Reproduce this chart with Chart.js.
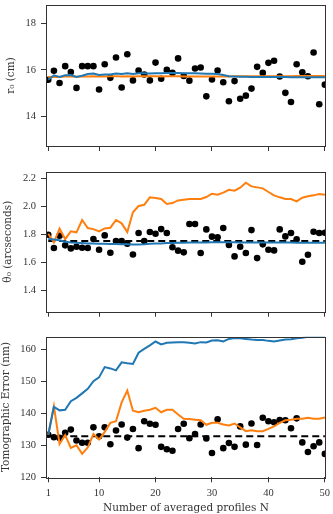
<!DOCTYPE html>
<html><head><meta charset="utf-8">
<script src="https://cdn.jsdelivr.net/npm/chart.js@4"></script>
<style>
html,body{margin:0;padding:0;background:#fff;overflow:hidden;width:333px;height:514px;position:relative;}
canvas{position:absolute;left:0;}
</style></head><body>
<canvas id="c1" width="333" height="160" style="top:0px"></canvas>
<canvas id="c2" width="333" height="160" style="top:160px"></canvas>
<canvas id="c3" width="333" height="200" style="top:320px"></canvas>
<script>
// ---------- data ----------
const profilesN = [1,2,3,4,5,6,7,8,9,10,11,12,13,14,15,16,17,18,19,20,21,22,23,24,25,26,27,28,29,30,31,32,33,34,35,36,37,38,39,40,41,42,43,44,45,46,47,48,49,50];
const xTicks = [1,10,20,30,40,50];

const r0Points = [15.58,15.96,15.44,16.16,15.91,15.23,16.16,16.16,16.16,15.16,16.24,15.66,16.53,15.25,16.67,15.55,15.97,15.80,15.55,16.31,15.62,16.00,15.87,16.49,15.74,15.54,16.06,16.10,14.87,15.59,15.97,15.47,14.66,15.52,14.77,14.90,15.20,16.13,15.87,16.30,16.39,15.72,15.02,14.63,16.24,15.90,15.73,16.74,14.53,15.37];
const r0Blue = [15.58,15.77,15.70,15.77,15.78,15.70,15.75,15.82,15.84,15.78,15.80,15.80,15.84,15.82,15.86,15.82,15.86,15.86,15.85,15.86,15.86,15.87,15.87,15.87,15.86,15.86,15.86,15.85,15.84,15.83,15.82,15.78,15.73,15.72,15.71,15.71,15.70,15.70,15.70,15.70,15.70,15.70,15.70,15.69,15.69,15.69,15.69,15.69,15.68,15.68];
const r0Orange = [15.70,15.71,15.70,15.72,15.72,15.71,15.72,15.72,15.73,15.72,15.72,15.73,15.73,15.72,15.73,15.72,15.73,15.73,15.73,15.73,15.72,15.73,15.73,15.73,15.72,15.72,15.72,15.72,15.72,15.72,15.72,15.72,15.72,15.73,15.73,15.73,15.73,15.73,15.73,15.73,15.73,15.73,15.73,15.73,15.74,15.74,15.74,15.74,15.74,15.74];
const r0Ticks = [14,16,18];

const thetaPoints = [1.80,1.705,1.793,1.724,1.702,1.714,1.707,1.705,1.769,1.693,1.795,1.671,1.755,1.755,1.736,1.659,1.812,1.755,1.819,1.807,1.84,1.812,1.71,1.686,1.674,1.876,1.876,1.669,1.838,1.786,1.781,1.848,1.726,1.645,1.714,1.669,1.833,1.633,1.731,1.693,1.688,1.838,1.788,1.812,1.767,1.607,1.657,1.821,1.812,1.814];
const thetaBlue = [1.77,1.765,1.76,1.75,1.745,1.742,1.74,1.738,1.737,1.736,1.735,1.734,1.733,1.732,1.731,1.73,1.73,1.732,1.735,1.737,1.738,1.74,1.741,1.742,1.743,1.744,1.745,1.745,1.745,1.746,1.746,1.746,1.746,1.746,1.745,1.745,1.745,1.745,1.745,1.745,1.745,1.745,1.745,1.744,1.743,1.742,1.742,1.742,1.742,1.742];
const thetaOrange = [1.807,1.745,1.843,1.769,1.824,1.817,1.905,1.848,1.84,1.824,1.845,1.85,1.905,1.881,1.819,1.96,2.005,2.014,2.067,2.062,2.055,2.019,2.026,2.045,2.05,2.055,2.055,2.055,2.069,2.093,2.086,2.1,2.121,2.114,2.136,2.171,2.145,2.138,2.131,2.105,2.081,2.067,2.055,2.055,2.038,2.064,2.074,2.081,2.09,2.086];
const thetaRef = 1.755;
const thetaTicks = [1.4,1.6,1.8,2.0,2.2];

const tomoPoints = [133.3,132.5,132.3,133.9,134.9,131.5,130.8,130.8,135.6,132.8,135.6,130.3,134.6,136.5,132.4,135.1,129.1,137.5,136.7,136.4,129.5,128.75,128.3,135.1,136.7,132.2,133.5,136.5,132.1,127.6,138.1,129.1,130.7,129.5,135.9,130.2,136.8,130.1,138.6,137.5,137.2,137.9,137.8,135.3,138.4,130.9,127.9,129.7,130.9,127.3];
const tomoBlue = [133.3,142.0,140.9,141.1,143.75,144.8,146.2,147.6,150.0,151.2,154.4,154.0,153.4,155.9,155.6,155.4,158.9,160.1,161.2,162.4,161.5,162.0,162.1,162.2,162.2,162.0,161.8,162.2,162.1,162.7,162.8,162.4,163.2,163.5,163.4,163.2,163.0,162.9,162.9,162.6,162.4,162.7,163.0,163.1,163.4,163.6,163.9,164.0,164.0,164.0];
const tomoOrange = [133.3,142.2,130.4,133.2,129.2,130.0,127.3,129.3,133.5,131.8,134.2,137.0,137.5,143.4,147.1,140.8,140.3,140.8,141.1,141.7,140.3,141.1,141.1,139.6,138.3,138.2,138.0,137.8,136.4,137.0,137.0,136.5,136.2,136.8,135.6,134.4,134.7,134.4,134.4,135.1,135.9,137.0,137.8,138.0,138.3,138.3,138.6,138.3,138.3,138.7];
const tomoRef = 132.8;
const tomoTicks = [120,130,140,150,160];

// ---------- helpers ----------
const BLUE = '#1f77b4', ORANGE = '#ff7f0e', INK = '#333333';
const pts = (ys) => profilesN.map((n, i) => ({x: n, y: ys[i]}));
const flat = (v) => profilesN.map(n => ({x: n, y: v}));

const framePlugin = {
  id: 'frame',
  afterDatasetsDraw(chart) {
    const {ctx, chartArea: a} = chart;
    ctx.save();
    ctx.strokeStyle = INK; ctx.lineWidth = 1;
    ctx.strokeRect(Math.round(a.left) + 0.5, Math.round(a.top) + 0.5, Math.round(a.right - a.left) - 1, Math.round(a.bottom - a.top));
    ctx.restore();
  }
};

function lineDs(data, color, order, dash) {
  return {data, showLine: true, borderColor: color, backgroundColor: color, borderWidth: 2,
    pointRadius: 0, pointHoverRadius: 0, tension: 0, order, clip: 0, borderDash: dash || []};
}
function dotDs(data) {
  return {data, showLine: false, pointRadius: 3.3, pointBackgroundColor: '#000', pointBorderWidth: 0,
    backgroundColor: '#000', borderColor: '#000', order: 10, clip: 0};
}

function panel(id, o) {
  const tickFont = {family: 'Liberation Serif', size: 10.5};
  const titleFont = {family: 'DejaVu Serif', size: 10.5};
  new Chart(document.getElementById(id), {
    type: 'scatter',
    data: {datasets: o.datasets},
    options: {
      responsive: false, animation: false, events: [],
      layout: {padding: {top: o.padTop, bottom: o.padBottom, left: 0, right: 7}},
      plugins: {legend: {display: false}, tooltip: {enabled: false}},
      scales: {
        x: {
          type: 'linear', min: 0.6, max: 50.2,
          afterBuildTicks: s => { s.ticks = xTicks.map(v => ({value: v})); },
          afterFit: s => { s.height = o.xHeight; s.paddingLeft = 0; s.paddingRight = 0; },
          grid: {drawOnChartArea: false, drawTicks: true, tickLength: 5, color: INK, lineWidth: 1},
          border: {display: false},
          ticks: {display: o.xLabels, padding: 4.5, color: INK, font: tickFont, autoSkip: false, maxRotation: 0,
                  callback: v => String(v)},
          title: {display: !!o.xTitle, text: o.xTitle || '', color: INK, font: titleFont, padding: 0}
        },
        y: {
          type: 'linear', min: o.yMin, max: o.yMax,
          afterBuildTicks: s => { s.ticks = o.yTicks.map(v => ({value: v})); },
          afterFit: s => { s.width = 46; s.paddingTop = 0; s.paddingBottom = 0; },
          grid: {drawOnChartArea: false, drawTicks: true, tickLength: 5, color: INK, lineWidth: 1},
          border: {display: false},
          ticks: {padding: 5, color: INK, font: tickFont, callback: o.yFmt},
          title: {display: true, text: o.yTitle, color: INK, font: titleFont, padding: {top: o.yTitlePad, bottom: 0}}
        }
      }
    },
    plugins: [framePlugin]
  });
}

panel('c1', {
  padTop: 5, padBottom: 8, xHeight: 6, xLabels: false,
  yMin: 12.75, yMax: 18.77, yTicks: r0Ticks, yFmt: v => String(v),
  yTitle: 'r\u2080 (cm)', yTitlePad: 4.5,
  datasets: [dotDs(pts(r0Points)), lineDs(pts(r0Orange), ORANGE, 2), lineDs(pts(r0Blue), BLUE, 1)]
});

panel('c2', {
  padTop: 11.7, padBottom: 2.3, xHeight: 6, xLabels: false,
  yMin: 1.25, yMax: 2.25, yTicks: thetaTicks, yFmt: v => v.toFixed(1),
  yTitle: '\u03b8\u2080 (arcseconds)', yTitlePad: 2,
  datasets: [dotDs(pts(thetaPoints)), lineDs(flat(thetaRef), '#000', 3, [7, 4]),
             lineDs(pts(thetaOrange), ORANGE, 2), lineDs(pts(thetaBlue), BLUE, 1)]
});

panel('c3', {
  padTop: 16.7, padBottom: 5, xHeight: 37.7, xLabels: true, xTitle: 'Number of averaged profiles N',
  yMin: 120, yMax: 163.9, yTicks: tomoTicks, yFmt: v => String(v),
  yTitle: 'Tomographic Error (nm)', yTitlePad: 0,
  datasets: [dotDs(pts(tomoPoints)), lineDs(flat(tomoRef), '#000', 3, [7, 4]),
             lineDs(pts(tomoOrange), ORANGE, 2), lineDs(pts(tomoBlue), BLUE, 1)]
});
</script>
</body></html>
